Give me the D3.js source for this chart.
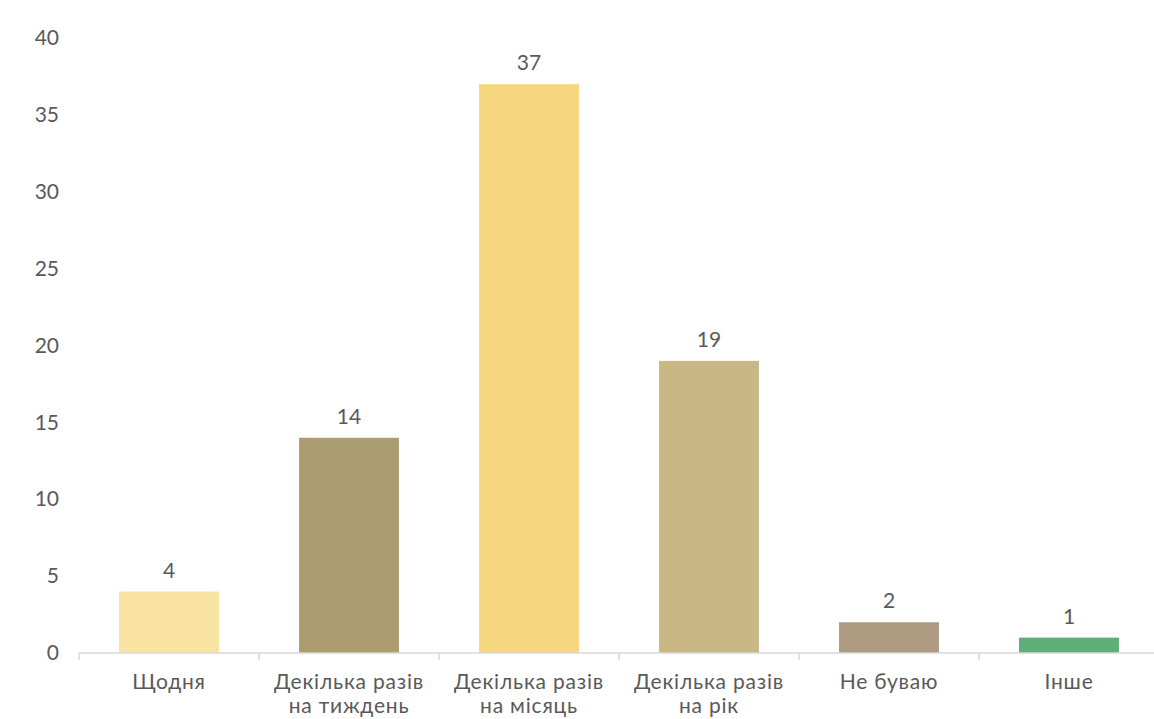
<!DOCTYPE html>
<html>
<head>
<meta charset="utf-8">
<script src="https://cdn.jsdelivr.net/npm/d3@7"></script>
<style>
  body { margin: 0; background: #fff; }
  text { font-family: "Lato", "DejaVu Sans", sans-serif; fill: #595959; }
</style>
</head>
<body>
<div class="chart"></div>
<script>
const categories = [
  ['Щодня'],
  ['Декілька разів', 'на тиждень'],
  ['Декілька разів', 'на місяць'],
  ['Декілька разів', 'на рік'],
  ['Не буваю'],
  ['Інше']
]
const values = [4, 14, 37, 19, 2, 1]
const colors = ['#f8e3a3', '#ac9d70', '#f6d77f', '#c9b786', '#ad9a80', '#5fae78']
const yTicks = [0, 5, 10, 15, 20, 25, 30, 35, 40]

const width = 1154, height = 719
const margin = {top: 38, right: -5, bottom: 66, left: 79}
const innerW = width - margin.left - margin.right
const innerH = height - margin.top - margin.bottom

const data = categories.map((c, i) => ({ key: i, label: c, value: values[i], color: colors[i] }))

const x = d3.scaleBand()
    .domain(data.map(d => d.key))
    .range([0, innerW])
    .paddingInner(0.445)
    .paddingOuter(0.2225)
const y = d3.scaleLinear()
    .domain([0, 40])
    .range([innerH, 0])

const svg = d3.select('.chart').append('svg')
    .attr('width', width)
    .attr('height', height)
  .append('g')
    .attr('transform', 'translate(' + margin.left + ',' + margin.top + ')')

svg.selectAll('.bar')
  .data(data)
  .enter().append('rect')
    .attr('class', 'bar')
    .attr('x', d => x(d.key))
    .attr('width', x.bandwidth())
    .attr('y', d => y(d.value))
    .attr('height', d => innerH - y(d.value))
    .attr('fill', d => d.color)

svg.selectAll('.value')
  .data(data)
  .enter().append('text')
    .attr('class', 'value')
    .attr('x', d => x(d.key) + x.bandwidth() / 2)
    .attr('y', d => y(d.value) - 14)
    .attr('text-anchor', 'middle')
    .style('font-size', '21px')
    .text(d => d.value)

// y axis: labels only
const yAxis = svg.append('g')
    .call(d3.axisLeft(y).tickValues(yTicks).tickSize(0).tickPadding(20))
yAxis.select('.domain').remove()
yAxis.selectAll('text').style('font-size', '21px').style('fill', '#595959')

// x axis with separators between categories
const step = x.step()
const xAxis = svg.append('g')
    .attr('transform', 'translate(0,' + innerH + ')')
xAxis.append('line')
    .attr('x1', 0).attr('x2', innerW)
    .attr('stroke', '#d9d9d9').attr('stroke-width', 1.5)
xAxis.selectAll('.sep')
  .data(d3.range(categories.length + 1))
  .enter().append('line')
    .attr('x1', i => x(0) - x.step() * x.paddingOuter() + i * step)
    .attr('x2', i => x(0) - x.step() * x.paddingOuter() + i * step)
    .attr('y1', 0).attr('y2', 7)
    .attr('stroke', '#d9d9d9').attr('stroke-width', 1.5)

const labels = xAxis.selectAll('.cat')
  .data(data)
  .enter().append('text')
    .attr('class', 'cat')
    .attr('x', d => x(d.key) + x.bandwidth() / 2)
    .attr('text-anchor', 'middle')
    .style('font-size', '21px')
    .style('letter-spacing', '0.8px')
labels.selectAll('tspan')
  .data(d => d.label)
  .enter().append('tspan')
    .attr('x', function() { return d3.select(this.parentNode).attr('x') })
    .attr('y', (d, i) => 36 + i * 24)
    .text(d => d)
</script>
</body>
</html>
